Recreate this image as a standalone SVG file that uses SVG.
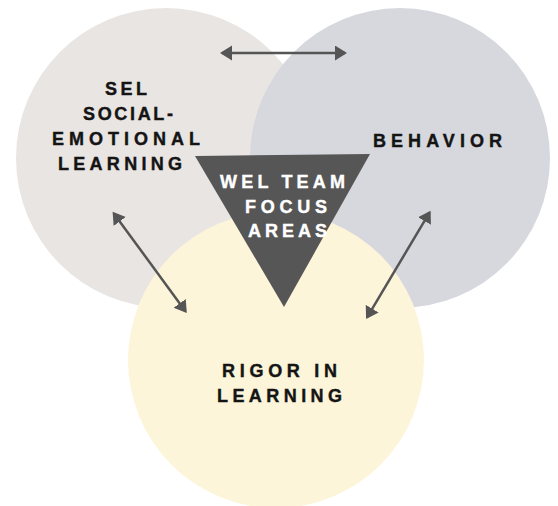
<svg xmlns="http://www.w3.org/2000/svg" width="558" height="506" viewBox="0 0 558 506">
<style>
.lbl{font-family:"Liberation Sans",Arial,sans-serif;font-weight:bold;font-size:18px;fill:#141414;stroke:#141414;stroke-width:0.4}
.wht{fill:#ffffff;stroke:#ffffff}
.conn{stroke:#555555;stroke-width:2.5;fill:none;marker-start:url(#ah);marker-end:url(#ah)}
</style>
<defs>
<marker id="ah" markerUnits="userSpaceOnUse" markerWidth="14" markerHeight="16" refX="10" refY="7.5" orient="auto-start-reverse" viewBox="0 0 14 16">
<path d="M0,0 L12,7.5 L0,15 z" fill="#555555"/>
</marker>
</defs>
<rect width="558" height="506" fill="#ffffff"/>
<g id="sel">
<circle cx="166" cy="158" r="150" fill="#e9e5e2"/>
<text class="lbl" x="105" y="95" textLength="42" lengthAdjust="spacing">SEL</text>
<text class="lbl" x="83" y="120" textLength="90" lengthAdjust="spacing">SOCIAL-</text>
<text class="lbl" x="52" y="145" textLength="148" lengthAdjust="spacing">EMOTIONAL</text>
<text class="lbl" x="58" y="170" textLength="124" lengthAdjust="spacing">LEARNING</text>
</g>
<g id="behavior">
<circle cx="400" cy="158" r="150" fill="#d7d8de"/>
<text class="lbl" x="373" y="147" textLength="129" lengthAdjust="spacing">BEHAVIOR</text>
</g>
<g id="rigor">
<circle cx="276" cy="360" r="148" fill="#fdf5da"/>
<text class="lbl" x="222" y="377" textLength="115" lengthAdjust="spacing">RIGOR IN</text>
<text class="lbl" x="217" y="402" textLength="125" lengthAdjust="spacing">LEARNING</text>
</g>
<g id="focus">
<polygon points="195,156 370,154 284,307" fill="#565656"/>
<text class="lbl wht" x="220" y="188" textLength="125" lengthAdjust="spacing">WEL TEAM</text>
<text class="lbl wht" x="245" y="213" textLength="82" lengthAdjust="spacing">FOCUS</text>
<text class="lbl wht" x="248" y="237" textLength="79" lengthAdjust="spacing">AREAS</text>
</g>
<g id="connectors">
<line class="conn" x1="222" y1="53" x2="345" y2="53"/>
<line class="conn" x1="113.8" y1="213.4" x2="185.6" y2="311.4"/>
<line class="conn" x1="429.6" y1="212.4" x2="367.1" y2="317.3"/>
</g>
</svg>
